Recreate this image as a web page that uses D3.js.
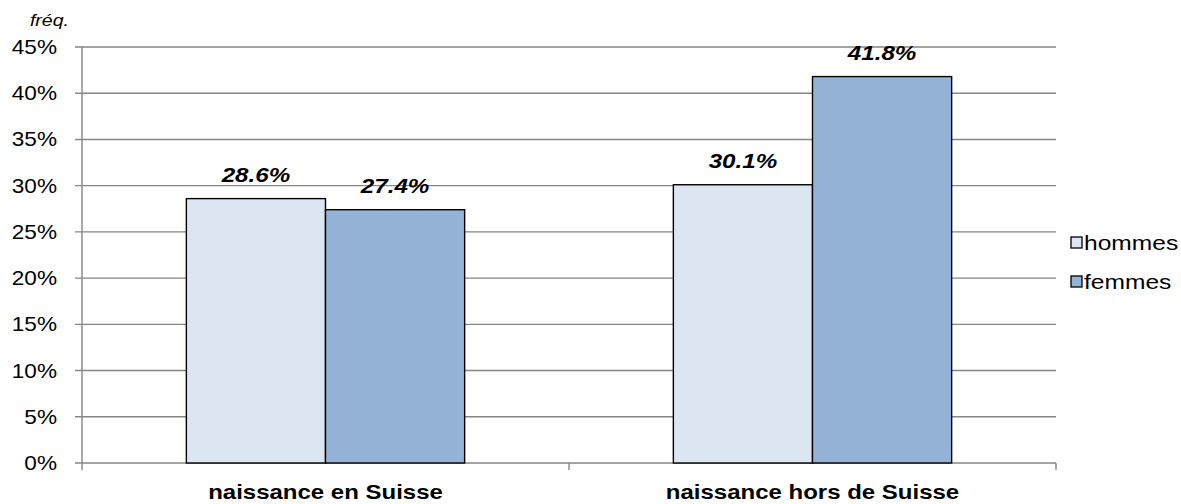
<!DOCTYPE html>
<html><head><meta charset="utf-8">
<script src="https://cdn.jsdelivr.net/npm/d3@7"></script>
<style>body{margin:0;background:#fff}svg{display:block}text{font-family:Arial,"Liberation Sans",sans-serif;fill:#000}</style>
</head><body>
<svg id="c" width="1181" height="504"></svg>
<script>
const categories = ["naissance en Suisse", "naissance hors de Suisse"];
const seriesNames = ["hommes", "femmes"];
const hommes = [28.6, 30.1];
const femmes = [27.4, 41.8];
const yTicks = [0, 5, 10, 15, 20, 25, 30, 35, 40, 45];
const colors = ["#DCE6F2", "#95B3D7"];

(function () {
const svg = d3.select("#c");
const pLeft = 82, pRight = 1056, pTop = 47, pBottom = 463;
const x0 = d3.scaleBand().domain(categories).range([pLeft, pRight]).paddingInner(0).paddingOuter(0);
const x1 = d3.scaleBand().domain(seriesNames).range([0, x0.bandwidth()]).paddingInner(0).paddingOuter(0.75);
const y = d3.scaleLinear().domain([0, 45]).range([pBottom, pTop]);
const grid = "#868686";
const tr = (x, yy, sx) => `translate(${x},${yy}) scale(${sx},1)`;

svg.append("g").selectAll("line").data(yTicks).join("line")
  .attr("x1", pLeft - 7).attr("x2", pRight)
  .attr("y1", d => y(d)).attr("y2", d => y(d))
  .attr("stroke", grid).attr("stroke-width", 1.4);
svg.append("line").attr("x1", pLeft).attr("x2", pLeft).attr("y1", pTop).attr("y2", pBottom + 7)
  .attr("stroke", grid).attr("stroke-width", 1.4);
svg.append("line").attr("x1", pLeft + x0.bandwidth()).attr("x2", pLeft + x0.bandwidth())
  .attr("y1", pBottom).attr("y2", pBottom + 7).attr("stroke", grid).attr("stroke-width", 1.4);
svg.append("line").attr("x1", pRight).attr("x2", pRight).attr("y1", pBottom).attr("y2", pBottom + 7)
  .attr("stroke", grid).attr("stroke-width", 1.4);

svg.append("g").selectAll("text").data(yTicks).join("text")
  .attr("transform", d => tr(57, y(d) + 7, 1.13)).attr("text-anchor", "end")
  .attr("font-size", 20).text(d => d + "%");
svg.append("text").attr("transform", tr(69, 26, 1.15)).attr("text-anchor", "end")
  .attr("font-size", 17).attr("font-style", "italic").text("fréq.");

const data = categories.map((c, i) => ({c, vals: [hommes[i], femmes[i]]}));
const g = svg.append("g").selectAll("g").data(data).join("g")
  .attr("transform", d => `translate(${x0(d.c)},0)`);
g.selectAll("rect").data(d => d.vals.map((v, j) => ({v, s: seriesNames[j], j}))).join("rect")
  .attr("x", d => x1(d.s)).attr("width", x1.bandwidth())
  .attr("y", d => y(d.v)).attr("height", d => pBottom - y(d.v))
  .attr("fill", d => colors[d.j]).attr("stroke", "#000").attr("stroke-width", 1.4);
g.selectAll("text.v").data(d => d.vals.map((v, j) => ({v, s: seriesNames[j], j}))).join("text")
  .attr("class", "v")
  .attr("transform", d => tr(x1(d.s) + x1.bandwidth() / 2, y(d.v) - 16.5, 1.18))
  .attr("text-anchor", "middle").attr("font-size", 20.5).attr("font-weight", "bold").attr("font-style", "italic")
  .text(d => d.v.toFixed(1) + "%");

svg.append("g").selectAll("text").data(categories).join("text")
  .attr("transform", d => tr(x0(d) + x0.bandwidth() / 2, 499, 1.2))
  .attr("text-anchor", "middle").attr("font-size", 20).attr("font-weight", "bold").text(d => d);

const lg = svg.append("g").selectAll("g").data(seriesNames).join("g")
  .attr("transform", (d, i) => `translate(1071,${237 + i * 39})`);
lg.append("rect").attr("width", 11).attr("height", 11).attr("fill", (d, i) => colors[i])
  .attr("stroke", "#000").attr("stroke-width", 1.3);
lg.append("text").attr("transform", tr(13, 13, 1.17)).attr("font-size", 21).text(d => d);
})();
</script>
</body></html>
